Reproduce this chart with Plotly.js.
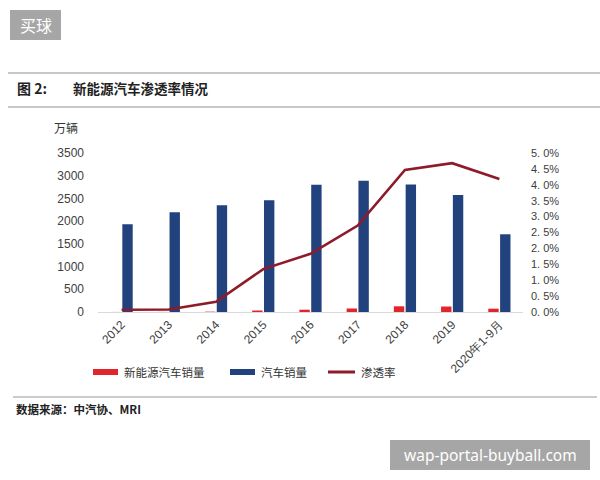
<!DOCTYPE html>
<html><head><meta charset="utf-8">
<script src="https://cdn.plot.ly/plotly-3.0.1.min.js"></script>
<style>html,body{margin:0;padding:0;background:#fff;}#chart{width:600px;height:480px;}</style>
</head><body><div id="chart"></div>
<script>
const categories = ['2012','2013','2014','2015','2016','2017','2018','2019','2020年1-9月'];
const nevSales = [1.3, 1.8, 7.5, 33.1, 50.7, 77.7, 125.6, 120.6, 73.2];
const autoSales = [1931, 2198, 2349, 2460, 2803, 2888, 2808, 2577, 1711];
const penetration = [0.0007, 0.0008, 0.0032, 0.0135, 0.0183, 0.0272, 0.0447, 0.0468, 0.0418];
const leftTicks = [0, 500, 1000, 1500, 2000, 2500, 3000, 3500];
const rightTickVals = [0, 0.005, 0.01, 0.015, 0.02, 0.025, 0.03, 0.035, 0.04, 0.045, 0.05];
const rightTickText = ['0. 0%','0. 5%','1. 0%','1. 5%','2. 0%','2. 5%','3. 0%','3. 5%','4. 0%','4. 5%','5. 0%'];
const seriesNames = ['新能源汽车销量', '汽车销量', '渗透率'];

const L = 98, R = 523, T = 153, B = 312;
const px = v => (v - L) / (R - L);
const py = v => (B - v) / (B - T);
const CJK = '"Noto Sans CJK SC", sans-serif';
const red = '#e0262a', blue = '#22427e', lineRed = '#8e1a2a';

const traces = [
  {type:'bar', name:seriesNames[0], x:categories, y:nevSales, marker:{color:red}, showlegend:false},
  {type:'bar', name:seriesNames[1], x:categories, y:autoSales, marker:{color:blue}, showlegend:false},
  {type:'scatter', mode:'lines', name:seriesNames[2], x:categories, y:penetration, yaxis:'y2',
   line:{color:lineRed, width:2.6}, showlegend:false}
];

const shapes = [
  {type:'rect', xref:'paper', yref:'paper', x0:px(10), x1:px(61), y0:py(10), y1:py(40), fillcolor:'#a6a6a6', line:{width:0}},
  {type:'line', xref:'paper', yref:'paper', x0:px(8), x1:px(600), y0:py(73), y1:py(73), line:{color:'#b4b4b4', width:1.5}},
  {type:'line', xref:'paper', yref:'paper', x0:px(8), x1:px(600), y0:py(107), y1:py(107), line:{color:'#b4b4b4', width:1.5}},
  {type:'line', xref:'paper', yref:'paper', x0:px(13), x1:px(597), y0:py(397), y1:py(397), line:{color:'#9a9a9a', width:1.2}},
  {type:'rect', xref:'paper', yref:'paper', x0:px(390), x1:px(590), y0:py(440), y1:py(470), fillcolor:'#a6a6a6', line:{width:0}},
  {type:'rect', xref:'paper', yref:'paper', x0:px(93), x1:px(118), y0:py(369), y1:py(375), fillcolor:red, line:{width:0}},
  {type:'rect', xref:'paper', yref:'paper', x0:px(230), x1:px(255), y0:py(369), y1:py(375), fillcolor:blue, line:{width:0}},
  {type:'line', xref:'paper', yref:'paper', x0:px(328), x1:px(355), y0:py(372), y1:py(372), line:{color:lineRed, width:3}}
];

function ann(text, x, y, opts) {
  return Object.assign({text:text, xref:'paper', yref:'paper', x:px(x), y:py(y), showarrow:false,
    xanchor:'left', yanchor:'middle', font:{family:CJK, size:11.5, color:'#333'}}, opts || {});
}

const annotations = [
  ann('买球', 35.5, 25, {xanchor:'center', font:{family:CJK, size:16, color:'#fff'}}),
  ann('<b>图 2:</b>', 15, 88, {font:{family:CJK, size:14, color:'#222'}}),
  ann('<b>新能源汽车渗透率情况</b>', 71, 88, {font:{family:CJK, size:13.5, color:'#222'}}),
  ann('万辆', 52, 127, {font:{family:CJK, size:12, color:'#333'}}),
  ann(seriesNames[0], 122, 372),
  ann(seriesNames[1], 259, 372),
  ann(seriesNames[2], 359, 372),
  ann('<b>数据来源：中汽协、MRI</b>', 14, 409, {font:{family:CJK, size:11.5, color:'#222'}}),
  ann('wap-portal-buyball.com', 490, 455, {xanchor:'center', font:{family:'"Noto Sans", sans-serif', size:15.5, color:'#fff'}})
];

const layout = {
  width:600, height:480,
  margin:{l:L, r:600-R, t:T, b:480-B, pad:0},
  paper_bgcolor:'#fff', plot_bgcolor:'#fff',
  barmode:'group', bargap:0.5, bargroupgap:0.12,
  showlegend:false,
  xaxis:{type:'category', tickangle:-45, showgrid:false, zeroline:false, showline:true,
    linecolor:'#d9d9d9', linewidth:1, ticks:'', tickfont:{family:'"Liberation Sans", Arial, sans-serif', size:12, color:'#404040'}},
  yaxis:{range:[0,3500], tickvals:leftTicks, showgrid:false, zeroline:false, showline:false, ticks:'',
    ticklabelstandoff:13,
    tickfont:{family:'"Liberation Sans", Arial, sans-serif', size:12, color:'#404040'}},
  yaxis2:{range:[0,0.05], overlaying:'y', side:'right', tickvals:rightTickVals, ticktext:rightTickText,
    showgrid:false, zeroline:false, showline:false, ticks:'', ticklabelstandoff:7,
    tickfont:{family:'"Liberation Sans", Arial, sans-serif', size:11, color:'#404040'}},
  shapes:shapes, annotations:annotations,
  font:{family:CJK}
};

Plotly.newPlot('chart', traces, layout, {displayModeBar:false, staticPlot:true});
</script></body></html>
